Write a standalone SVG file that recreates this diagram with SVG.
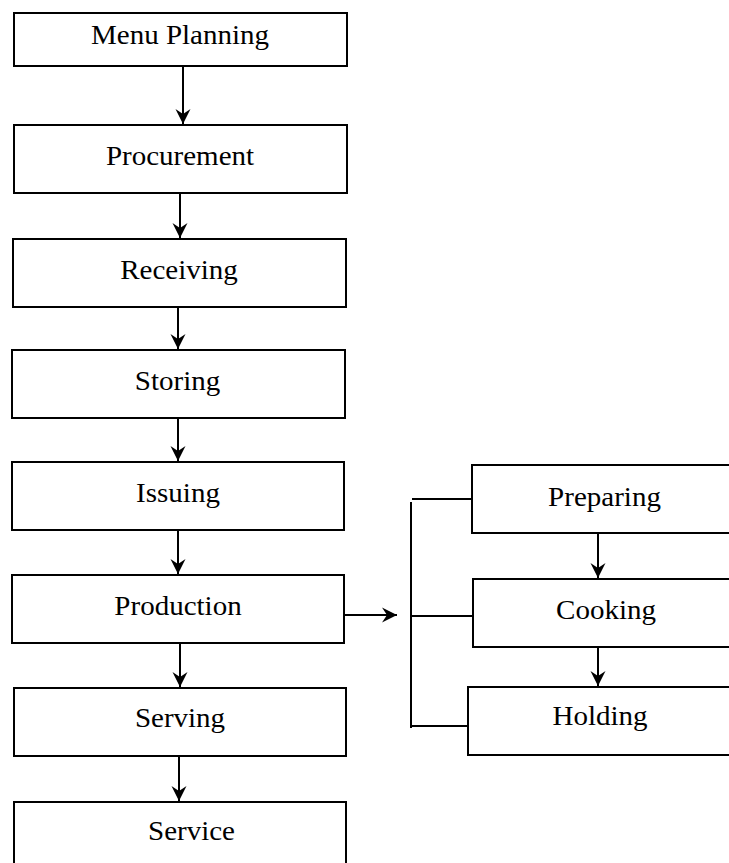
<svg xmlns="http://www.w3.org/2000/svg" width="729" height="863" viewBox="0 0 729 863">
<style>
  .box { fill: #fff; stroke: #000; stroke-width: 2; }
  .lbl { font-family: "Liberation Serif", "Times New Roman", serif; font-size: 27px; fill: #000; text-anchor: middle; }
  .ln { stroke: #000; stroke-width: 2; fill: none; }
  .arr { stroke: #000; stroke-width: 2; fill: none; marker-end: url(#ah); }
</style>
<defs>
  <marker id="ah" markerUnits="userSpaceOnUse" markerWidth="20" markerHeight="20" viewBox="-16 -10 20 20" refX="0" refY="0" orient="auto">
    <path d="M0,0 L-15,-7.5 L-10,0 L-15,7.5 Z" fill="#000"/>
  </marker>
</defs>
<rect width="729" height="863" fill="#fff"/>
<g id="connectors">
  <line class="arr" x1="183" y1="66" x2="183" y2="124"/>
  <line class="arr" x1="180" y1="193" x2="180" y2="238"/>
  <line class="arr" x1="178" y1="307" x2="178" y2="349"/>
  <line class="arr" x1="178" y1="418" x2="178" y2="461"/>
  <line class="arr" x1="178" y1="530" x2="178" y2="574"/>
  <line class="arr" x1="180" y1="643" x2="180" y2="687"/>
  <line class="arr" x1="179" y1="756" x2="179" y2="801"/>
  <line class="arr" x1="345" y1="615" x2="397" y2="615"/>
  <line class="arr" x1="598" y1="533" x2="598" y2="578"/>
  <line class="arr" x1="598" y1="642" x2="598" y2="686"/>
  <line class="ln" x1="411" y1="502" x2="411" y2="728"/>
  <line class="ln" x1="412" y1="499" x2="472" y2="499"/>
  <line class="ln" x1="411" y1="616" x2="473" y2="616"/>
  <line class="ln" x1="411" y1="726" x2="468" y2="726"/>
</g>
<g id="menu-planning">
  <rect class="box" x="14" y="13" width="333" height="53"/>
  <text class="lbl" transform="translate(180,43.5) scale(1.075,1)">Menu Planning</text>
</g>
<g id="procurement">
  <rect class="box" x="14" y="125" width="333" height="68"/>
  <text class="lbl" transform="translate(180,165) scale(1.075,1)">Procurement</text>
</g>
<g id="receiving">
  <rect class="box" x="13" y="239" width="333" height="68"/>
  <text class="lbl" transform="translate(179,278.5) scale(1.075,1)">Receiving</text>
</g>
<g id="storing">
  <rect class="box" x="12" y="350" width="333" height="68"/>
  <text class="lbl" transform="translate(177.5,389.5) scale(1.075,1)">Storing</text>
</g>
<g id="issuing">
  <rect class="box" x="12" y="462" width="332" height="68"/>
  <text class="lbl" transform="translate(178,501.5) scale(1.075,1)">Issuing</text>
</g>
<g id="production">
  <rect class="box" x="12" y="575" width="332" height="68"/>
  <text class="lbl" transform="translate(178,614.5) scale(1.075,1)">Production</text>
</g>
<g id="serving">
  <rect class="box" x="14" y="688" width="332" height="68"/>
  <text class="lbl" transform="translate(180,726.5) scale(1.075,1)">Serving</text>
</g>
<g id="service">
  <rect class="box" x="14" y="802" width="332" height="80"/>
  <text class="lbl" transform="translate(191.5,839.5) scale(1.075,1)">Service</text>
</g>
<g id="preparing">
  <rect class="box" x="472" y="465" width="280" height="68"/>
  <text class="lbl" transform="translate(604.5,505.5) scale(1.075,1)">Preparing</text>
</g>
<g id="cooking">
  <rect class="box" x="473" y="579" width="280" height="68"/>
  <text class="lbl" transform="translate(606,618.5) scale(1.075,1)">Cooking</text>
</g>
<g id="holding">
  <rect class="box" x="468" y="687" width="280" height="68"/>
  <text class="lbl" transform="translate(600,724.5) scale(1.075,1)">Holding</text>
</g>
</svg>
